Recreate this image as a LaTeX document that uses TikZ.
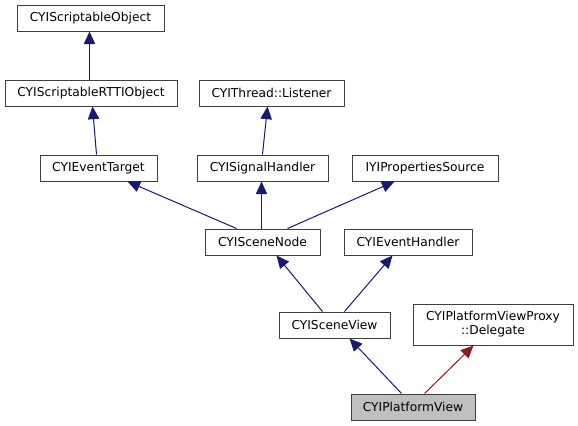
\documentclass[tikz,border=0pt]{standalone}
\usepackage{fontspec}
\setmainfont{DejaVu Sans}
\usetikzlibrary{arrows.meta,calc}
\definecolor{edgeblue}{HTML}{191970}
\definecolor{edgered}{HTML}{8B1A1A}
\definecolor{boxline}{HTML}{404040}
\begin{document}
\begin{tikzpicture}[x=0.75pt,y=-0.75pt,
  box/.style={draw=boxline,line width=0.75pt,fill=white,rectangle,inner sep=0pt,minimum height=26*0.75pt,align=center,font=\fontsize{9.2pt}{10.5pt}\selectfont},
  hl/.style={box,fill=black!25},
  inh/.style={draw=edgeblue,line width=0.75pt,-{Triangle[length=9.5pt,width=8.5pt]}},
  priv/.style={draw=edgered,line width=0.75pt,-{Triangle[length=9.5pt,width=8.5pt]}}]
\useasboundingbox (0,0) rectangle (578,425);
\fill[white] (0,0) rectangle (578,425);
\node[box,minimum width=147*0.75pt] (so) at (90.5,18) {CYIScriptableObject};
\node[box,minimum width=172*0.75pt] (rtti) at (91,93) {CYIScriptableRTTIObject};
\node[box,minimum width=117*0.75pt] (et) at (98.5,168) {CYIEventTarget};
\node[box,minimum width=145*0.75pt] (lis) at (271.5,93) {CYIThread::Listener};
\node[box,minimum width=131*0.75pt] (sh) at (262.5,168) {CYISignalHandler};
\node[box,minimum width=146*0.75pt] (ps) at (425,168) {IYIPropertiesSource};
\node[box,minimum width=115*0.75pt] (sn) at (262.5,242) {CYISceneNode};
\node[box,minimum width=128*0.75pt] (eh) at (408,242) {CYIEventHandler};
\node[box,minimum width=111*0.75pt] (sv) at (334.5,325) {CYISceneView};
\node[box,minimum width=160*0.75pt,minimum height=41*0.75pt] (del) at (493,324.5) {CYIPlatformViewProxy\\::Delegate};
\node[hl,minimum width=124*0.75pt] (pv) at (413,407) {CYIPlatformView};

\draw[inh] ($(rtti.north west)+(85,0)$) -- ($(so.south west)+(73,0)$);
\draw[inh] ($(et.north west)+(57,0)$) -- ($(rtti.south west)+(88,0)$);
\draw[inh] ($(sh.north west)+(66,0)$) -- ($(lis.south west)+(69,0)$);
\draw[inh] ($(sn.north west)+(32,0)$) -- ($(et.south west)+(88,0)$);
\draw[inh] ($(sn.north west)+(57,0)$) -- ($(sh.south west)+(65,0)$);
\draw[inh] ($(sn.north west)+(83,0)$) -- ($(ps.south west)+(43,0)$);
\draw[inh] ($(sv.north west)+(44,0)$) -- ($(sn.south west)+(72,0)$);
\draw[inh] ($(sv.north west)+(66,0)$) -- ($(eh.south west)+(49,0)$);
\draw[inh] ($(pv.north west)+(51,0)$) -- ($(sv.south west)+(71,0)$);
\draw[priv] ($(pv.north west)+(74,0)$) -- ($(del.south west)+(61,0)$);
\end{tikzpicture}
\end{document}
